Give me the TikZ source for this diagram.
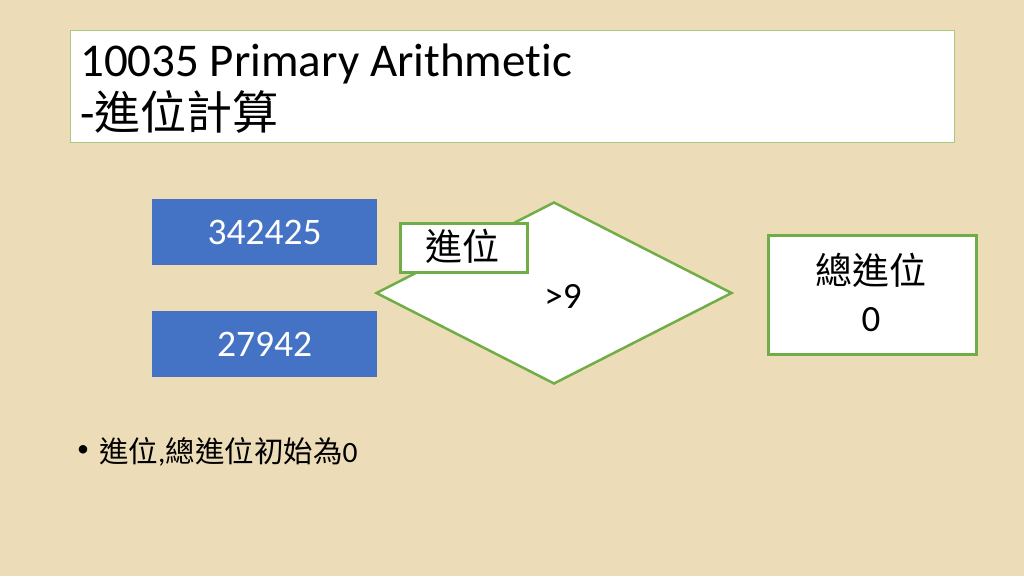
\documentclass[tikz,border=0pt]{standalone}
\usepackage{fontspec}
\usetikzlibrary{shapes.geometric}
\setmainfont[Ligatures=CommonOff]{Carlito}
\newfontfamily\cjk{Noto Sans CJK TC}
\definecolor{bgc}{RGB}{236,221,184}
\definecolor{bluebox}{RGB}{68,114,196}
\definecolor{grn}{RGB}{112,173,71}
\definecolor{ltgrn}{RGB}{169,200,130}
\tikzset{
  numbox/.style={draw=none, fill=bluebox, minimum width=225pt, minimum height=66pt, inner sep=0pt, text=white, font=\fontsize{37.5}{40}\selectfont},
  greenbox/.style={draw=grn, line width=3pt, fill=white, inner sep=0pt},
  txt/.style={inner sep=0pt, text=black},
}
\begin{document}
\begin{tikzpicture}[x=1pt,y=-1pt]
\fill[bgc] (0,0) rectangle (1024,576);
\useasboundingbox (0,0) rectangle (1024,576);
% title
\node[draw=ltgrn, line width=1pt, fill=white, minimum width=884pt, minimum height=112pt, inner sep=0pt, anchor=north west] (title) at (70,30) {};
\node[txt, anchor=base west, font=\fontsize{47}{56}\selectfont] (t1) at (80,76) {10035 Primary Arithmetic};
\node[txt, anchor=base west, font=\fontsize{47}{56}\selectfont] (t2) at (80,129) {-{\cjk\fontsize{46}{56}\selectfont 進位計算}};
% number boxes
\node[numbox, anchor=north west] (n1) at (152,199) {342425};
\node[numbox, anchor=north west] (n2) at (152,311) {27942};
% diamond
\node[diamond, draw=grn, line width=2.5pt, fill=white, minimum width=356pt, minimum height=182pt, inner sep=0pt, aspect=1.95] (dia) at (554,293) {};
\node[txt, font=\fontsize{37}{40}\selectfont] (gt) at (563,296) {>9};
\node[greenbox, minimum width=127pt, minimum height=49pt, anchor=north west] (carry) at (399,222) {};
\node[txt, font=\fontsize{37}{40}\cjk] (carryt) at (462,246) {進位};
% total box
\node[greenbox, minimum width=208pt, minimum height=119pt, anchor=north west] (total) at (767,234) {};
\node[txt, font=\fontsize{37}{40}\cjk] (totalt) at (871,270) {總進位};
\node[txt, font=\fontsize{37}{40}\selectfont] (zero) at (871,320) {0};
% bullet
\node[txt, font=\fontsize{24}{30}\selectfont] (bul) at (83,451) {•};
\node[txt, anchor=base west, font=\fontsize{29.5}{34}\selectfont] (bt) at (99,462) {{\cjk 進位},{\cjk 總進位初始為}0};
\end{tikzpicture}
\end{document}
